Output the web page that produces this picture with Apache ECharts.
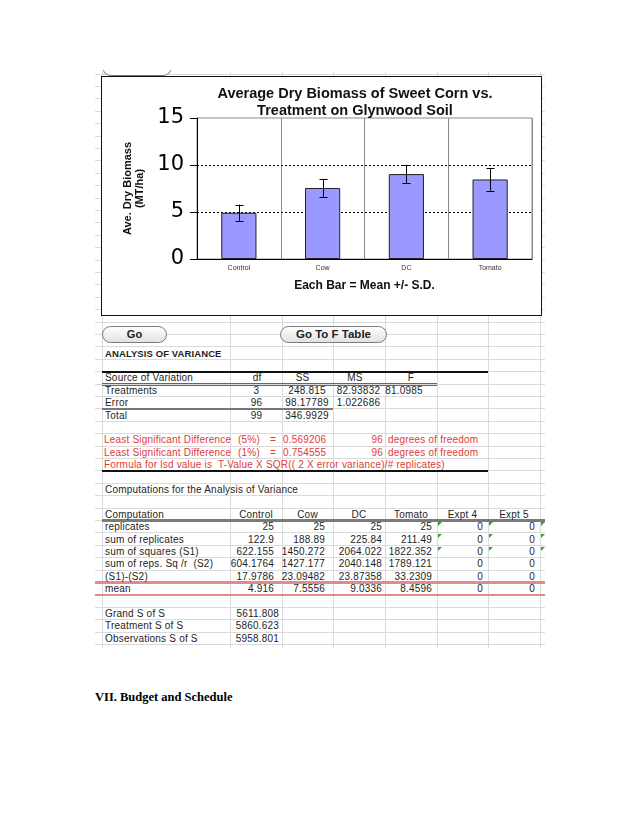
<!DOCTYPE html>
<html><head><meta charset="utf-8">
<script src="https://cdn.jsdelivr.net/npm/echarts@6/dist/echarts.min.js"></script>
<style>
html,body{margin:0;padding:0;background:#fff;}
body{width:638px;height:826px;position:relative;overflow:hidden;font-family:'Liberation Sans',Arial,sans-serif;}
.t{position:absolute;font-size:10px;line-height:12px;height:12px;color:#1e1e1e;white-space:pre;letter-spacing:0.2px;}
.b{font-weight:bold;}
.red{color:#dd3a3a;}
.ln{position:absolute;}
.btn{position:absolute;box-sizing:border-box;border:1px solid #7a7a7a;border-radius:9px;background:linear-gradient(#fefefe,#e2e2e2);font-weight:bold;color:#222;text-align:center;}
#chart{position:absolute;left:101px;top:76px;width:441px;height:240px;box-sizing:border-box;border:1px solid #111;background:#fff;}
#vii{position:absolute;left:95px;top:690px;font-family:'Liberation Serif','Times New Roman',serif;font-weight:bold;font-size:12.5px;color:#000;white-space:pre;}
</style></head>
<body>
<div id="chart"></div>
<div id="vii">VII. Budget and Schedule</div>
<script>
// ---------- chart data ----------
const categories = ['Control', 'Cow', 'DC', 'Tomato'];
const meanValues = [4.916, 7.5556, 9.0336, 8.4596];
const sdValues = [0.87, 0.98, 0.97, 1.18];
const yTicks = [0, 5, 10, 15];
const refLines = [5, 10];
const chartTitle = 'Average Dry Biomass of Sweet Corn vs.\nTreatment on Glynwood Soil';
const yName = 'Ave. Dry Biomass\n(MT/ha)';
const xName = 'Each Bar = Mean +/- S.D.';

// ---------- spreadsheet data ----------
const anovaHeader = ['Source of Variation', 'df', 'SS', 'MS', 'F'];
const anovaLabels = ['Treatments', 'Error', 'Total'];
const anovaDf = ['3', '96', '99'];
const anovaSS = ['248.815', '98.17789', '346.9929'];
const anovaMS = ['82.93832', '1.022686', ''];
const anovaF = ['81.0985', '', ''];
const lsdLabels = ['(5%)', '(1%)'];
const lsdValues = ['0.569206', '0.754555'];
const lsdDf = ['96', '96'];
const compHeader = ['Control', 'Cow', 'DC', 'Tomato', 'Expt 4', 'Expt 5'];
const compLabels = ['replicates', 'sum of replicates', 'sum of squares (S1)', 'sum of reps. Sq /r  (S2)', '(S1)-(S2)', 'mean'];
const compReplicates = ['25', '25', '25', '25', '0', '0'];
const compSumReps = ['122.9', '188.89', '225.84', '211.49', '0', '0'];
const compSumSq = ['622.155', '1450.272', '2064.022', '1822.352', '0', '0'];
const compS2 = ['604.1764', '1427.177', '2040.148', '1789.121', '0', '0'];
const compDiff = ['17.9786', '23.09482', '23.87358', '33.2309', '0', '0'];
const compMean = ['4.916', '7.5556', '9.0336', '8.4596', '0', '0'];
const totalsLabels = ['Grand S of S', 'Treatment S of S', 'Observations S of S'];
const totalsValues = ['5611.808', '5860.623', '5958.801'];

// ---------- layout helpers ----------
const body = document.body;
const rowY = n => 353 + 12.4 * n;
const lineY = k => 346.8 + 12.4 * k;
function el(cls, css, text) {
  const d = document.createElement('div');
  d.className = cls;
  Object.assign(d.style, css);
  if (text !== undefined) d.textContent = text;
  body.insertBefore(d, document.getElementById('chart'));
  return d;
}
function hline(x1, x2, y, w, c) { el('ln', {left: x1 + 'px', top: (y - w / 2) + 'px', width: (x2 - x1) + 'px', height: w + 'px', background: c}); }
function vline(x, y1, y2, w, c) { el('ln', {left: (x - w / 2) + 'px', top: y1 + 'px', width: w + 'px', height: (y2 - y1) + 'px', background: c}); }
function put(text, x, y, align, cls, extra) {
  const css = Object.assign({top: (y - 5.5) + 'px'}, extra || {});
  if (align === 'right') css.right = (638 - x) + 'px';
  else if (align === 'center') { css.left = x + 'px'; css.transform = 'translateX(-50%)'; }
  else css.left = x + 'px';
  const d = document.createElement('div');
  d.className = 't ' + (cls || '');
  Object.assign(d.style, css);
  d.textContent = text;
  body.appendChild(d);
}

// spreadsheet grid
const colLines = [102, 230, 282, 333, 385, 437, 488, 540];
for (let k = -22; k <= 24; k++) { const y = lineY(k); if (y >= 72 && y <= 648) hline(95, 545, y, 1, '#dadada'); }
colLines.forEach(x => vline(x, 72, 648, 1, '#dadada'));

// heavy rule lines
hline(102, 488, lineY(2), 2, '#111');
hline(102, 437, lineY(3) - 1, 1, '#666');
hline(102, 437, lineY(3) + 1.5, 1, '#666');
hline(102, 333, lineY(5), 2.5, '#777');
hline(102, 488, lineY(10), 2, '#111');
hline(102, 545, lineY(14), 3, '#7a7a7a');
hline(95, 545, lineY(19), 2.5, '#e58a8a');
hline(95, 545, lineY(20), 2.5, '#e58a8a');

// small tab at top-left
const clip = el('ln', {left: '100px', top: '70px', width: '76px', height: '7px', overflow: 'hidden'});
const tab = document.createElement('div');
Object.assign(tab.style, {position: 'absolute', left: '2px', top: '-12px', width: '70px', height: '18px', boxSizing: 'border-box', border: '1px solid #777', borderRadius: '9px', background: '#fff'});
clip.appendChild(tab);

// buttons
el('btn', {left: '102px', top: '326px', width: '65px', height: '17px', fontSize: '11px', lineHeight: '15px'}, 'Go');
el('btn', {left: '280px', top: '326px', width: '107px', height: '17px', fontSize: '11.5px', lineHeight: '15px'}, 'Go To F Table');

// ANOVA
put('ANALYSIS OF VARIANCE', 105, rowY(0), 'left', 'b', {fontSize: '9.5px', letterSpacing: '0.1px'});
const anovaHeadX = [[105, 'left'], [257, 'center'], [302.5, 'center'], [355, 'center'], [411, 'center']];
anovaHeader.forEach((h, i) => put(h, anovaHeadX[i][0], rowY(2), anovaHeadX[i][1]));
anovaLabels.forEach((lab, r) => {
  const y = rowY(3 + r);
  put(lab, 105, y, 'left');
  put(anovaDf[r], 256.5, y, 'center');
  if (anovaSS[r]) put(anovaSS[r], 307, y, 'center');
  if (anovaMS[r]) put(anovaMS[r], 358.5, y, 'center');
  if (anovaF[r]) put(anovaF[r], 404, y, 'center');
});

// LSD lines (red)
lsdLabels.forEach((lab, r) => {
  const y = rowY(7 + r);
  put('Least Significant Difference', 104, y, 'left', 'red');
  put(lab, 238, y, 'left', 'red');
  put('=', 270, y, 'left', 'red');
  put(lsdValues[r], 283, y, 'left', 'red');
  put(lsdDf[r], 383, y, 'right', 'red');
  put('degrees of freedom', 388, y, 'left', 'red');
});
put('Formula for lsd value is  T-Value X SQR(( 2 X error variance)/# replicates)', 104, rowY(9), 'left', 'red');

// Computations
put('Computations for the Analysis of Variance', 105, rowY(11), 'left');
put('Computation', 105, rowY(13), 'left');
const colCenters = [256, 307.5, 359, 411, 462.5, 514];
const colRights = [274, 325, 382, 432, 483, 535];
compHeader.forEach((h, i) => put(h, colCenters[i], rowY(13), 'center'));
const compRows = [compReplicates, compSumReps, compSumSq, compS2, compDiff, compMean];
compLabels.forEach((lab, r) => {
  const y = rowY(14 + r);
  put(lab, 105, y, 'left');
  compRows[r].forEach((v, i) => put(v, colRights[i], y, 'right'));
});
// green error-indicator triangles
[0, 1, 2].forEach(r => {
  [437, 488, 540].forEach(x => {
    const t = document.createElement('div');
    Object.assign(t.style, {position: 'absolute', left: (x + 1) + 'px', top: (lineY(14 + r) + 1.5) + 'px', width: 0, height: 0,
      borderTop: '4px solid #3c9a3c', borderRight: '4px solid transparent'});
    body.appendChild(t);
  });
});
totalsLabels.forEach((lab, r) => {
  const y = rowY(21 + r);
  put(lab, 105, y, 'left');
  put(totalsValues[r], 279, y, 'right');
});

// ---------- chart ----------
const chart = echarts.init(document.getElementById('chart'), null, {renderer: 'canvas'});
const errData = categories.map((c, i) => [i, meanValues[i] - sdValues[i], meanValues[i] + sdValues[i]]);
chart.setOption({
  animation: false,
  backgroundColor: '#fff',
  textStyle: {fontFamily: 'Liberation Sans'},
  graphic: [{
    type: 'text', x: 253, y: 8,
    style: {text: chartTitle, fill: '#111', font: 'bold 14.5px "Liberation Sans"', textAlign: 'center', lineHeight: 17}
  }],
  grid: {left: 95, top: 41, width: 335, height: 141, show: true, borderColor: '#8a8a8a', borderWidth: 1},
  xAxis: {
    type: 'category', data: categories,
    axisLine: {lineStyle: {color: '#000', width: 1}},
    axisTick: {show: false},
    axisLabel: {fontSize: 7, color: '#333', margin: 6},
    splitLine: {show: true, lineStyle: {color: '#8a8a8a', width: 1}},
    name: xName, nameLocation: 'middle', nameGap: 21,
    nameTextStyle: {fontWeight: 'bold', fontSize: 12, color: '#111'}
  },
  yAxis: {
    type: 'value', min: yTicks[0], max: yTicks[yTicks.length - 1], interval: yTicks[1] - yTicks[0],
    axisLine: {show: true, lineStyle: {color: '#000', width: 1}},
    axisTick: {show: true, length: 7, lineStyle: {color: '#000'}},
    axisLabel: {fontSize: 21, fontFamily: 'DejaVu Sans', color: '#000', margin: 13},
    splitLine: {show: false},
    name: yName, nameLocation: 'middle', nameGap: 47,
    nameTextStyle: {fontWeight: 'bold', fontSize: 11, lineHeight: 12, color: '#111'}
  },
  series: [
    {
      type: 'line', data: [], z: 1, silent: true,
      markLine: {silent: true, symbol: 'none', label: {show: false}, z: 1,
        lineStyle: {color: '#000', type: [2, 2], width: 1},
        data: refLines.map(v => ({yAxis: v}))}
    },
    {
      type: 'bar', data: meanValues, barWidth: '42%', z: 3,
      itemStyle: {color: '#9999ff', borderColor: '#222', borderWidth: 1}
    },
    {
      type: 'custom', data: errData, z: 5,
      encode: {x: 0, y: [1, 2]},
      renderItem: function (params, api) {
        const lo = api.coord([api.value(0), api.value(1)]);
        const hi = api.coord([api.value(0), api.value(2)]);
        const x = Math.round(lo[0]) + 0.5, w = 4;
        const st = {stroke: '#000', lineWidth: 1};
        return {type: 'group', children: [
          {type: 'line', shape: {x1: x, y1: lo[1], x2: x, y2: hi[1]}, style: st},
          {type: 'line', shape: {x1: x - w, y1: Math.round(hi[1]) + 0.5, x2: x + w, y2: Math.round(hi[1]) + 0.5}, style: st},
          {type: 'line', shape: {x1: x - w, y1: Math.round(lo[1]) + 0.5, x2: x + w, y2: Math.round(lo[1]) + 0.5}, style: st}
        ]};
      }
    }
  ]
});
</script>
</body></html>
